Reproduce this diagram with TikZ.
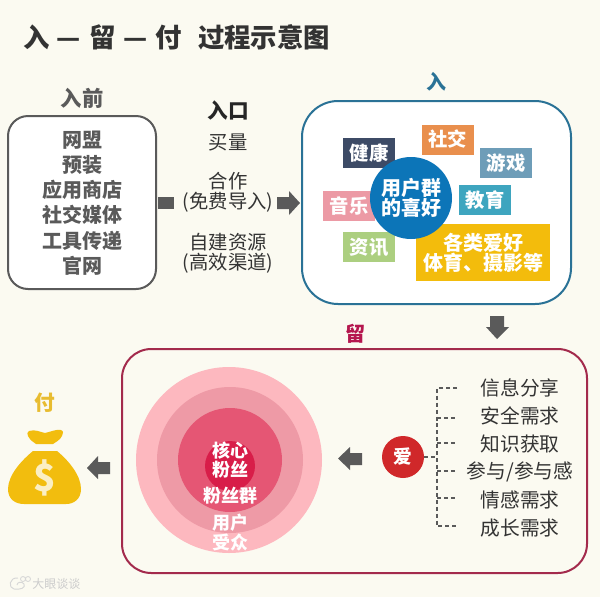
\documentclass[tikz,border=0pt]{standalone}
\usepackage{fontspec}
\setmainfont{Noto Sans CJK SC}
\definecolor{bgc}{HTML}{FBFAF1}
\definecolor{greyd}{HTML}{5A5A5A}
\definecolor{inkc}{HTML}{333333}
\definecolor{blueb}{HTML}{2A7296}
\definecolor{redb}{HTML}{A32A4C}
\definecolor{tnavy}{HTML}{3D4B66}
\definecolor{torange}{HTML}{E98F4D}
\definecolor{tsteel}{HTML}{6E9DB8}
\definecolor{tpink}{HTML}{EC9AA5}
\definecolor{tteal}{HTML}{3EA5BF}
\definecolor{tgreen}{HTML}{ACCF80}
\definecolor{tyellow}{HTML}{F3BC0C}
\definecolor{tblue}{HTML}{0C75B8}
\definecolor{liuc}{HTML}{B5174F}
\definecolor{ring1}{HTML}{FDB8BF}
\definecolor{ring2}{HTML}{EE9AA6}
\definecolor{ring3}{HTML}{E55674}
\definecolor{ring4}{HTML}{D81D49}
\definecolor{lovec}{HTML}{D0282A}
\definecolor{fuc}{HTML}{E8BC30}
\definecolor{bagc}{HTML}{F2BD0E}
\definecolor{dolc}{HTML}{FBEFC4}
\tikzset{
 txt/.style={inner sep=0pt,align=center,text=inkc,font=\fontsize{14.5pt}{15pt}\selectfont},
 tag/.style={inner sep=0pt,minimum width=39pt,minimum height=22.5pt,fill=#1,text=white,font=\fontsize{14.5pt}{15pt}\selectfont\bfseries},
 lab/.style={inner sep=0pt,text=white,font=\fontsize{13.5pt}{14pt}\selectfont\bfseries},
 lst/.style={inner sep=0pt,text=greyd,font=\fontsize{15pt}{15pt}\selectfont\bfseries},
 item/.style={inner sep=0pt,text=inkc,font=\fontsize{14.8pt}{15pt}\selectfont},
 bigbox/.style={rounded corners=#1,line width=1.5pt},
 tree/.style={draw=greyd,line width=0.9pt,dash pattern=on 3pt off 2.2pt},
 blockarrow/.style={fill=greyd,draw=none},
 ring/.style={circle,fill=#1,inner sep=0pt},
}
\begin{document}
\begin{tikzpicture}[x=0.75pt,y=-0.75pt]
\useasboundingbox (0,0) rectangle (600,597);
\fill[bgc] (0,0) rectangle (600,597);
% title
\node[anchor=west,inner sep=0pt,text=inkc,font=\fontsize{19.8pt}{20pt}\selectfont\bfseries] (title) at (23,37) {入\hspace{5.5pt}—\hspace{6pt}留\hspace{6pt}—\hspace{6pt}付\hspace{12pt}过程示意图};
% left box
\draw[bigbox=15pt,draw=greyd,fill=white] (8,116) rectangle (156,289);
\node[inner sep=0pt,text=greyd,font=\fontsize{16pt}{16pt}\selectfont\bfseries] (before) at (82,98) {入前};
\node[lst] (a1) at (82,140) {网盟};
\node[lst] (a2) at (82,165) {预装};
\node[lst] (a3) at (82,190) {应用商店};
\node[lst] (a4) at (82,215) {社交媒体};
\node[lst] (a5) at (82,241) {工具传递};
\node[lst] (a6) at (82,266) {官网};
% entrance column
\node[inner sep=0pt,text=black!85,font=\fontsize{15.5pt}{15.5pt}\selectfont\bfseries] (ent) at (228,111) {入口};
\node[txt] (e1) at (228,142) {买量};
\node[txt] (e2) at (228,192) {合作\\(免费导入)};
\node[txt] (e3) at (228,253) {自建资源\\(高效渠道)};
\fill[blockarrow] (158,197) rectangle (174,209);
\fill[blockarrow] (277,197) -- (289,197) -- (289,191) -- (300,203) -- (289,215) -- (289,209) -- (277,209) -- cycle;
% entry box
\draw[bigbox=27pt,draw=blueb,fill=white] (302,101) rectangle (571,304);
\node[inner sep=0pt,text=blueb,font=\fontsize{15pt}{15pt}\selectfont\bfseries] (ru) at (436,82) {入};
\node[tag=tnavy] (t1) at (369,153) {健康};
\node[tag=torange] (t2) at (447.5,139.5) {社交};
\node[tag=tsteel] (t3) at (506,163) {游戏};
\node[tag=tpink,text width=29pt,align=left] (t4) at (349,206) {音乐};
\node[tag=tteal] (t5) at (485,200) {教育};
\node[tag=tgreen] (t6) at (369,247) {资讯};
\node[tag=tyellow,minimum width=100.5pt,minimum height=42.75pt,align=center,font=\fontsize{15pt}{15pt}\selectfont\bfseries] (t7) at (483,252.5) {各类爱好\\体育、摄影等};
\node[circle,fill=tblue,minimum size=61.5pt,inner sep=0pt,text=white,align=center,font=\fontsize{15pt}{15pt}\selectfont\bfseries] (core) at (411,198) {用户群\\的喜好};
% down arrow
\fill[blockarrow] (490,316) -- (504,316) -- (504,327) -- (509,327) -- (497,339) -- (486,327) -- (490,327) -- cycle;
% retention box
\node[inner sep=0pt,text=liuc,font=\fontsize{15pt}{15pt}\selectfont\bfseries] (liu) at (355,334) {留};
\draw[bigbox=22pt,draw=redb] (122,349) rectangle (587,573);
\node[ring=ring1,minimum size=139.5pt] (c1) at (229,460) {};
\node[ring=ring2,minimum size=109.5pt] (c2) at (230,460) {};
\node[ring=ring3,minimum size=78pt] (c3) at (230,460) {};
\node[ring=ring4,minimum size=37.5pt] (c4) at (230,466) {};
\node[lab] (l1) at (230,451) {核心};
\node[lab] (l2) at (230,470) {粉丝};
\node[lab] (l3) at (230,496) {粉丝群};
\node[lab] (l4) at (230,523) {用户};
\node[lab] (l5) at (230,543) {受众};
% arrows
\fill[blockarrow] (362,453) -- (350,453) -- (350,447) -- (338,458.5) -- (350,470) -- (350,465) -- (362,465) -- cycle;
\fill[blockarrow] (110,462) -- (98,462) -- (98,456) -- (87,468) -- (98,479) -- (98,474) -- (110,474) -- cycle;
% love
\node[circle,fill=lovec,minimum size=31.5pt,inner sep=0pt,text=white,font=\fontsize{14pt}{14pt}\selectfont\bfseries] (love) at (403,457) {爱};
\coordinate (hub) at (437,457);
\coordinate (b1) at (457,388);
\coordinate (b2) at (457,418);
\coordinate (b3) at (457,443);
\coordinate (b4) at (457,471);
\coordinate (b5) at (457,498);
\coordinate (b6) at (457,526);
\draw[tree] (love.east) -- (hub);
\draw[tree] (b1) -- (437,388) -- (437,526) -- (b6);
\draw[tree] (437,418) -- (b2);
\draw[tree] (437,443) -- (b3);
\draw[tree] (437,471) -- (b4);
\draw[tree] (437,498) -- (b5);
\node[item] (i1) at (520,388) {信息分享};
\node[item] (i2) at (520,416) {安全需求};
\node[item] (i3) at (520,444) {知识获取};
\node[item] (i4) at (520,472) {参与/参与感};
\node[item] (i5) at (520,500) {情感需求};
\node[item] (i6) at (520,528) {成长需求};
% pay
\node[inner sep=0pt,text=fuc,font=\fontsize{15.5pt}{15.5pt}\selectfont\bfseries] (fu) at (45,403) {付};
\fill[bagc] (29,431) .. controls (35,429) and (40,432) .. (45,433) .. controls (50,432) and (56,429) .. (61,430) .. controls (64,431) and (63,434) .. (62,436) .. controls (60,440) and (56,442) .. (53,444) -- (36,444) .. controls (33,442) and (30,440) .. (28,436) .. controls (27,434) and (27,432) .. (29,431) -- cycle;
\fill[bagc] (33,451) -- (57,451) .. controls (68,460) and (81,475) .. (81,489) .. controls (81,499) and (74,504) .. (66,504) -- (24,504) .. controls (15,504) and (8,499) .. (8,489) .. controls (8,475) and (22,460) .. (33,451) -- cycle;
\node[inner sep=0pt,text=dolc,font=\fontsize{28pt}{28pt}\selectfont\bfseries] (dollar) at (45,478) {\$};
% watermark
\draw[black!16,line width=0.7pt] (18,578) .. controls (9,577) and (8,588) .. (14,589) .. controls (20,590) and (26,588) .. (24,584) .. controls (22,581) and (17,582) .. (17,585);
\draw[black!16,line width=0.6pt] (23,579) circle[radius=2.5] (28,579) circle[radius=2.5];
\node[anchor=west,inner sep=0pt,text=black!20,font=\fontsize{9pt}{9pt}\selectfont] (wm) at (32,584) {大眼谈谈};
\end{tikzpicture}
\end{document}
